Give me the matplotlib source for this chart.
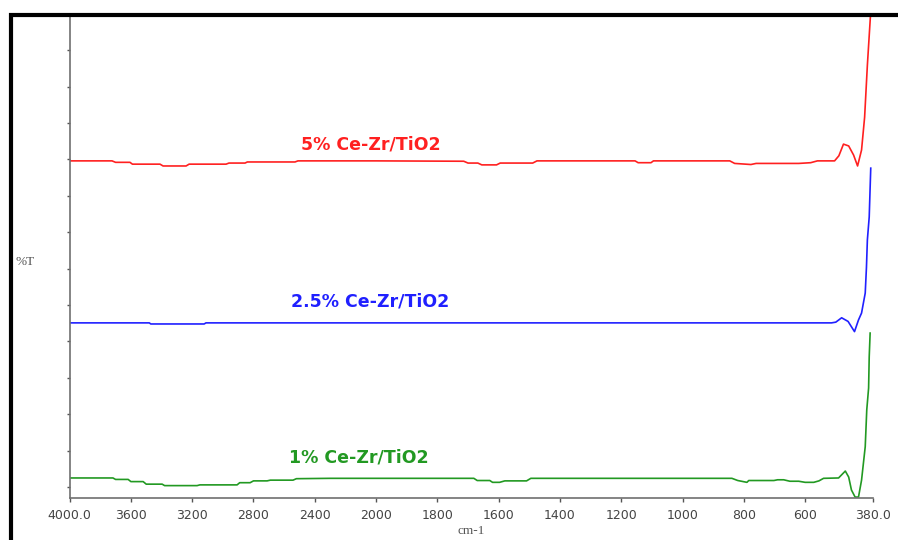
#FTIR spectra of the Ce-Zr/TiO2 samples, stacked with offsets

import numpy as np
import matplotlib
matplotlib.use("Agg")
import matplotlib.pyplot as plt
from matplotlib.patches import Rectangle

#wavenumber (cm-1) and %T
wn_5 = [4000, 3723, 3700, 3606, 3590, 3410, 3390, 3240, 3220, 2979, 2960, 2855, 2840, 2529, 2510, 2300,
        2000, 1714, 1700, 1668, 1655, 1607, 1595, 1489, 1475, 1155, 1145, 1103, 1095, 846, 830, 777,
        760, 621, 582, 560, 504, 490, 475, 458, 442, 429, 416, 406, 397, 387, 382]
t_5 = [89.6, 89.6, 89.2, 89.2, 88.7, 88.7, 88.2, 88.2, 88.7, 88.7, 89.0, 89.0, 89.3, 89.3, 89.6, 89.6,
       89.6, 89.5, 89.0, 89.0, 88.5, 88.5, 89.0, 89.0, 89.6, 89.6, 89.1, 89.1, 89.6, 89.6, 88.9, 88.6,
       88.9, 88.9, 89.1, 89.6, 89.6, 91.0, 94.2, 93.7, 91.2, 88.2, 92.6, 101.6, 115.9, 129.4, 140]

wn_25 = [4000, 3480, 3470, 3122, 3110, 2000, 1200, 514, 500, 481, 460, 439, 426, 416, 404, 400, 397, 391, 386]
t_25 = [45.1, 45.1, 44.8, 44.8, 45.1, 45.1, 45.1, 45.1, 45.3, 46.5, 45.5, 42.7, 45.9, 47.8, 53.3, 60.4,
        67.9, 74.2, 87.6]

wn_1 = [4000, 3717, 3700, 3618, 3600, 3520, 3500, 3396, 3380, 3168, 3150, 2907, 2890, 2822, 2800, 2711,
        2690, 2542, 2520, 2300, 2000, 1681, 1670, 1629, 1620, 1597, 1580, 1509, 1495, 839, 820, 790,
        784, 702, 690, 670, 650, 621, 600, 572, 555, 540, 491, 469, 458, 449, 437, 426, 416, 404,
        399, 393, 391, 388]
t_1 = [2.5, 2.5, 2.1, 2.1, 1.5, 1.5, 0.8, 0.8, 0.4, 0.4, 0.6, 0.6, 1.2, 1.2, 1.7, 1.7,
       1.9, 1.9, 2.3, 2.4, 2.4, 2.4, 1.8, 1.8, 1.3, 1.3, 1.7, 1.7, 2.4, 2.4, 1.8, 1.3,
       1.8, 1.8, 2.0, 2.0, 1.6, 1.6, 1.3, 1.3, 1.7, 2.4, 2.5, 4.4, 2.75, -0.8, -2.75, -2.75,
       1.9, 11.1, 21.2, 27.2, 35.8, 42.3]

names = ["5% Ce-Zr/TiO2", "2.5% Ce-Zr/TiO2", "1% Ce-Zr/TiO2"]
colors = ["#ff2020", "#2020ff", "#229922"]
xticks = [4000, 3600, 3200, 2800, 2400, 2000, 1800, 1600, 1400, 1200, 1000, 800, 600, 380]
xticklabels = ["4000.0", "3600", "3200", "2800", "2400", "2000", "1800", "1600", "1400",
               "1200", "1000", "800", "600", "380.0"]

#spectrometer axis: below 2000 cm-1 the scale is stretched 2x
def fwd(x):
    x = np.asarray(x, dtype=float)
    return np.where(x >= 2000, x / 2 + 1000, x)

def inv(y):
    y = np.asarray(y, dtype=float)
    return np.where(y >= 2000, (y - 1000) * 2, y)

fig = plt.figure(figsize=(8.98, 5.4), dpi=100)
ax = fig.add_axes([0.0775, 0.0778, 0.8942, 0.8926])

ax.set_xscale("function", functions=(fwd, inv))

ax.plot(wn_5, t_5, color=colors[0], lw=1.2)
ax.plot(wn_25, t_25, color=colors[1], lw=1.2)
ax.plot(wn_1, t_1, color=colors[2], lw=1.2)

ax.set_xlim(4000, 380)
ax.set_ylim(-3.0, 129.4)

#sample names
ax.text(2033, 94.0, names[0], color=colors[0], fontsize=12.5, fontweight="bold", ha="center", va="center")
ax.text(2039, 51.1, names[1], color=colors[1], fontsize=12.5, fontweight="bold", ha="center", va="center")
ax.text(2111, 8.0, names[2], color=colors[2], fontsize=12.5, fontweight="bold", ha="center", va="center")

ax.set_xticks(xticks)
ax.set_xticklabels(xticklabels)
ax.minorticks_off()
ax.set_yticks(range(0, 121, 10))
ax.set_yticklabels([])
ax.tick_params(axis="x", direction="out", length=3, width=1, color="#555555",
               labelsize=9, labelcolor="#444444", pad=5)
ax.tick_params(axis="y", direction="out", length=2, width=1, color="#555555")

for side in ["top", "right"]:
    ax.spines[side].set_visible(False)
for side in ["left", "bottom"]:
    ax.spines[side].set_color("#707070")
    ax.spines[side].set_linewidth(1.2)

ax.set_xlabel("cm-1", family="Liberation Serif", fontsize=9.5, color="#555555", labelpad=2)
fig.text(25 / 898, 1 - 262 / 540, "%T", family="Liberation Serif", fontsize=9.5,
         color="#555555", ha="center", va="center")

#black window frame along top and left edges
fig.add_artist(Rectangle((10.5 / 898, -0.1), 1.2, 1 - 15 / 540 + 0.1, transform=fig.transFigure,
                         fill=False, ec="black", lw=3, clip_on=False))

fig.savefig("out.png", dpi=100)
